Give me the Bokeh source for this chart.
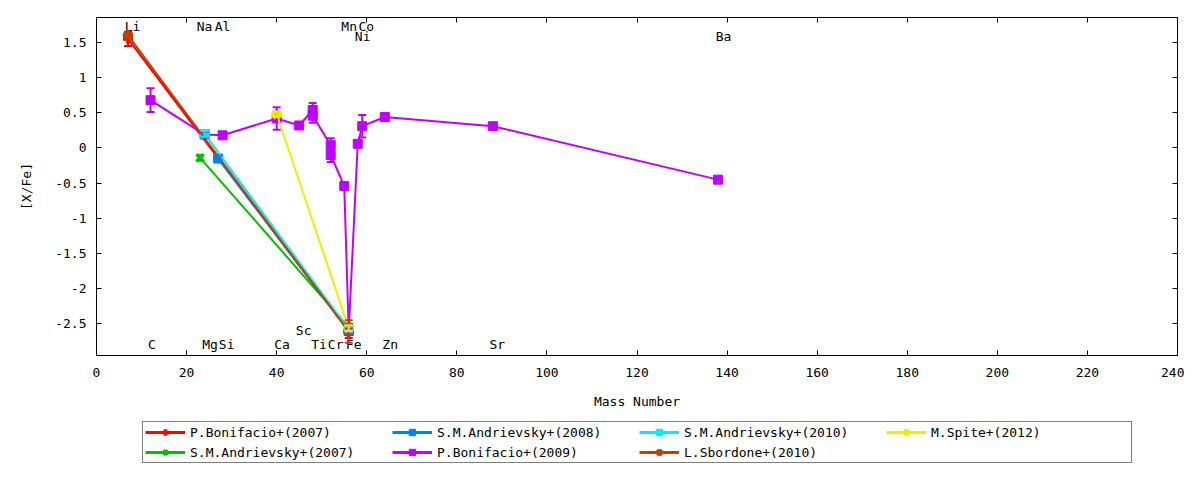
from bokeh.plotting import figure
from bokeh.layouts import column
from bokeh.models import (Range1d, LinearAxis, FixedTicker, CustomJSTickFormatter, Whisker,
                          TeeHead, ColumnDataSource, Legend, LegendItem)
from bokeh.core.properties import value
from bokeh.embed import file_html
from bokeh.resources import INLINE

FONT = "DejaVu Sans Mono"

# ---------------- data ----------------
x_ticks = [0, 20, 40, 60, 80, 100, 120, 140, 160, 180, 200, 220, 240]
y_ticks = [-2.5, -2, -1.5, -1, -0.5, 0, 0.5, 1, 1.5]

elem_names = ["Li", "Na", "Al", "Mn", "Co", "Ni", "Ba",
              "C", "Mg", "Si", "Ca", "Sc", "Ti", "Cr", "Fe", "Zn", "Sr"]
elem_x = [8.0, 24.0, 28.0, 56.1, 59.9, 59.1, 139.2,
          12.3, 25.2, 28.9, 41.2, 46.0, 49.4, 53.1, 57.1, 65.2, 89.0]
elem_y = [1.73, 1.73, 1.73, 1.73, 1.73, 1.59, 1.59,
          -2.79, -2.79, -2.79, -2.79, -2.59, -2.79, -2.79, -2.79, -2.79, -2.79]

bon07_x = [7, 56]
bon07_y = [1.55, -2.60]
bon07_e = [0.10, 0.10]

and07_x = [23, 56]
and07_y = [-0.14, -2.55]
and07_e = [0.04, 0.04]

and08_x = [27, 56]
and08_y = [-0.15, -2.60]
and08_e = [0.04, 0.04]

bon09_x = [12, 24, 28, 40, 45, 48, 48, 52, 52, 55, 56, 58, 59, 64, 88, 138]
bon09_y = [0.68, 0.19, 0.18, 0.42, 0.32, 0.54, 0.46, 0.04, -0.10, -0.54, -2.60,
           0.06, 0.31, 0.44, 0.31, -0.45]
bon09_e = [0.17, 0.04, 0.04, 0.16, 0.04, 0.10, 0.10, 0.10, 0.10, 0.04, 0.04,
           0.04, 0.16, 0.04, 0.04, 0.04]

and10_x = [24, 56]
and10_y = [0.20, -2.58]
and10_e = [0.04, 0.04]

sbo10_x = [7, 56]
sbo10_y = [1.60, -2.61]
sbo10_e = [0.04, 0.16]

spi12_x = [40, 56]
spi12_y = [0.48, -2.56]
spi12_e = [0.04, 0.04]

series = [
    ("P.Bonifacio+(2007)", "#ff0000", "cross", bon07_x, bon07_y, bon07_e),
    ("S.M.Andrievsky+(2007)", "#00c000", "x", and07_x, and07_y, and07_e),
    ("S.M.Andrievsky+(2008)", "#0080ff", "square", and08_x, and08_y, and08_e),
    ("P.Bonifacio+(2009)", "#c000ff", "square", bon09_x, bon09_y, bon09_e),
    ("S.M.Andrievsky+(2010)", "#00eeee", "square", and10_x, and10_y, and10_e),
    ("L.Sbordone+(2010)", "#c04000", "circle", sbo10_x, sbo10_y, sbo10_e),
    ("M.Spite+(2012)", "#eeee00", "circle", spi12_x, spi12_y, spi12_e),
]

# ---------------- main figure ----------------
p = figure(width=1184, height=420, output_backend="svg", toolbar_location=None,
           x_range=Range1d(0, 240), y_range=Range1d(-2.95, 1.855),
           min_border_left=96, min_border_right=7, min_border_top=17,
           min_border_bottom=65)
p.background_fill_color = "white"
p.border_fill_color = "white"
p.outline_line_color = "black"
p.outline_line_width = 1
p.xgrid.grid_line_color = None
p.ygrid.grid_line_color = None

fmt = CustomJSTickFormatter(code="return tick.toString();")

def style_axis(ax, ticks, labels=True):
    ax.ticker = FixedTicker(ticks=ticks)
    ax.minor_tick_line_color = None
    ax.major_tick_in = 5
    ax.major_tick_out = 0
    ax.major_tick_line_color = "black"
    ax.axis_line_color = "black"
    if labels:
        ax.formatter = fmt
        ax.major_label_text_font = FONT
        ax.major_label_text_font_size = "13px"
        ax.major_label_text_color = "black"
        ax.axis_label_text_font = FONT
        ax.axis_label_text_font_size = "13px"
        ax.axis_label_text_font_style = "normal"
        ax.axis_label_text_color = "black"
    else:
        ax.major_label_text_font_size = "1px"
        ax.major_label_text_color = None
        ax.major_label_standoff = 0

style_axis(p.xaxis[0], x_ticks)
style_axis(p.yaxis[0], y_ticks)
p.xaxis[0].axis_label = "Mass Number"
p.xaxis[0].major_label_standoff = 12
p.xaxis[0].axis_label_standoff = 14
p.yaxis[0].axis_label = "[X/Fe]"
p.yaxis[0].major_label_standoff = 10
p.yaxis[0].axis_label_standoff = 18

top_ax = LinearAxis()
style_axis(top_ax, x_ticks, labels=False)
p.add_layout(top_ax, "above")
right_ax = LinearAxis()
style_axis(right_ax, y_ticks, labels=False)
p.add_layout(right_ax, "right")

# element labels
lab_src = ColumnDataSource(dict(x=elem_x, y=elem_y, t=elem_names))
p.text("x", "y", text="t", source=lab_src, text_font=value(FONT),
       text_font_size="13px", text_align="center", text_baseline="middle",
       text_color="black")

# ---------------- legend strip (frame aligned with the main plot) ----------------
lg = figure(width=1184, height=44, output_backend="svg", toolbar_location=None,
            x_range=Range1d(0, 1), y_range=Range1d(0, 1),
            x_axis_type=None, y_axis_type=None,
            min_border_left=0, min_border_right=0, min_border_top=0,
            min_border_bottom=0)
lg.outline_line_color = None
lg.xgrid.grid_line_color = None
lg.ygrid.grid_line_color = None
lg.background_fill_color = "white"
lg.border_fill_color = "white"

items = []
for name, col, mk, xs, ys, es in series:
    src = ColumnDataSource(dict(x=xs, y=ys,
                                lo=[a - b for a, b in zip(ys, es)],
                                hi=[a + b for a, b in zip(ys, es)]))
    p.line("x", "y", source=src, line_color=col, line_width=2)
    wh = Whisker(base="x", lower="lo", upper="hi", source=src, dimension="height",
                 line_color=col, line_width=2, level="glyph",
                 upper_head=TeeHead(size=8, line_color=col, line_width=2),
                 lower_head=TeeHead(size=8, line_color=col, line_width=2))
    p.add_layout(wh)
    if mk in ("x", "cross"):
        mk_kw = dict(marker=mk, size=10, line_color=col, line_width=3.5)
    else:
        mk_kw = dict(marker=mk, size=10 if mk == "circle" else 9,
                     fill_color=col, line_color=col, line_width=1)
    p.scatter("x", "y", source=src, **mk_kw)
    # legend samples in the strip (the data lie outside its 0..1 view)
    r1 = lg.line("x", "y", source=src, line_color=col, line_width=3)
    r2 = lg.scatter("x", "y", source=src, **mk_kw)
    items.append(LegendItem(label=name, renderers=[r1, r2]))

legend = Legend(items=items, location=(46, 1), orientation="vertical", nrows=2,
                label_text_font=FONT, label_text_font_size="13px",
                label_text_color="black", label_text_baseline="middle",
                glyph_width=40, glyph_height=16, label_height=16, label_width=198,
                label_standoff=5, spacing=4, padding=2, margin=0,
                border_line_color="black", border_line_width=1,
                background_fill_color="white", background_fill_alpha=1.0)
lg.add_layout(legend, "center")

layout = column(p, lg, spacing=0)
open("out.html", "w").write(file_html(layout, INLINE))
